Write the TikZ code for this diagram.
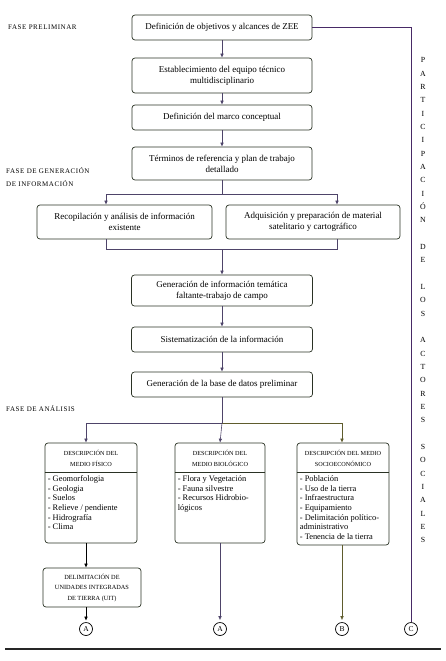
\documentclass[tikz,border=0pt]{standalone}
\usepackage{fontspec}
\setmainfont{Liberation Serif}
\newfontfamily\capsfont[LetterSpace=8]{Liberation Serif}
\usetikzlibrary{arrows.meta,calc}
\definecolor{boxc}{RGB}{42,50,36}
\definecolor{linec}{RGB}{78,68,105}
\definecolor{cline}{RGB}{72,42,102}
\definecolor{olivec}{RGB}{95,92,45}
\begin{document}
\begin{tikzpicture}[x=1pt,y=-1pt,
  box/.style={draw=boxc, line width=0.7pt, rounded corners=3pt, align=center, inner sep=2pt, font=\fontsize{9}{11}\selectfont},
  arr/.style={draw=linec, line width=0.6pt, -{Latex[length=4pt,width=3.6pt]}},
  ln/.style={draw=linec, line width=0.6pt},
  lab/.style={anchor=west, inner sep=0pt, font=\capsfont\fontsize{7}{13}\selectfont, align=left},
  hdr/.style={inner sep=0pt, align=center, font=\fontsize{6.2}{10.5}\selectfont},
  lst/.style={inner sep=0pt, align=left, anchor=north west, font=\fontsize{8.4}{9.6}\selectfont},
  circ/.style={draw=black, circle, line width=0.7pt, minimum size=13pt, inner sep=0pt, font=\fontsize{7.5}{8}\selectfont}
]
\useasboundingbox (0,0) rectangle (445,661);

% phase labels
\node[lab] (l1) at (8,27) {FASE PRELIMINAR};
\node[lab] (l2) at (6,177.5) {FASE DE GENERACIÓN\\DE INFORMACIÓN};
\node[lab] (l3) at (6,409) {FASE DE ANÁLISIS};

% main boxes
\node[box, minimum width=180, minimum height=25] (b1) at (222,27.5) {Definición de objetivos y alcances de ZEE};
\node[box, minimum width=180, minimum height=35] (b2) at (222,75.5) {Establecimiento del equipo técnico\\multidisciplinario};
\node[box, minimum width=180, minimum height=25] (b3) at (222,117.5) {Definición del marco conceptual};
\node[box, minimum width=180, minimum height=33] (b4) at (222,163.5) {Términos de referencia y plan de trabajo\\detallado};
\node[box, minimum width=175, minimum height=34] (b5) at (124.5,222) {Recopilación y análisis de información\\existente};
\node[box, minimum width=174, minimum height=34] (b6) at (313,222) {Adquisición y preparación de material\\satelitario y cartográfico};
\node[box, minimum width=181, minimum height=31] (b7) at (222,290.5) {Generación de información temática\\faltante-trabajo de campo};
\node[box, minimum width=181, minimum height=25] (b8) at (222,339.5) {Sistematización de la información};
\node[box, minimum width=181, minimum height=25] (b9) at (222,384.5) {Generación de la base de datos preliminar};

% description boxes
\node[box, minimum width=92, minimum height=100] (d1) at (91,493) {};
\node[box, minimum width=90, minimum height=100] (d2) at (220,493) {};
\node[box, minimum width=92, minimum height=102] (d3) at (343,494) {};

\node[hdr] (d1h) at ($(d1.north)+(0,15.5)$) {DESCRIPCIÓN DEL\\MEDIO FÍSICO};
\node[hdr] (d2h) at ($(d2.north)+(0,15.5)$) {DESCRIPCIÓN DEL\\MEDIO BIOLÓGICO};
\node[hdr] (d3h) at ($(d3.north)+(0,15.5)$) {DESCRIPCIÓN DEL MEDIO\\SOCIOECONÓMICO};

\draw[boxc, line width=0.6pt] ($(d1.north west)+(0,30)$) -- ($(d1.north east)+(0,30)$);
\draw[boxc, line width=0.6pt] ($(d2.north west)+(0,30)$) -- ($(d2.north east)+(0,30)$);
\draw[boxc, line width=0.6pt] ($(d3.north west)+(0,30)$) -- ($(d3.north east)+(0,30)$);

\node[lst] (d1l) at ($(d1.north west)+(3,33)$) {- Geomorfologia\\- Geologia\\- Suelos\\- Relieve / pendiente\\- Hidrografía\\- Clima};
\node[lst] (d2l) at ($(d2.north west)+(3,33)$) {- Flora y Vegetación\\- Fauna silvestre\\- Recursos Hidrobio-\\lógicos};
\node[lst] (d3l) at ($(d3.north west)+(3,33)$) {- Población\\- Uso de la tierra\\- Infraestructura\\- Equipamiento\\- Delimitación político-\\administrativo\\- Tenencia de la tierra};

\node[box, minimum width=98, minimum height=39, font=\fontsize{6.3}{10.5}\selectfont] (b13) at (92,587.5) {DELIMITACIÓN DE\\UNIDADES INTEGRADAS\\DE TIERRA (UIT)};

% circles
\node[circ] (cA1) at (86,629) {A};
\node[circ] (cA2) at (220,629) {A};
\node[circ] (cB) at (342,629) {B};
\node[circ] (cC) at (411,629) {C};

% vertical text
\node[inner sep=0pt, align=center, anchor=north, font=\fontsize{7.8}{13.33}\selectfont] (vt) at (423,57.5)
 {P\\A\\R\\T\\I\\C\\I\\P\\A\\C\\I\\Ó\\N\\[13.33pt]D\\E\\[13.33pt]L\\O\\S\\[13.33pt]A\\C\\T\\O\\R\\E\\S\\[13.33pt]S\\O\\C\\I\\A\\L\\E\\S};

% connectors top
\draw[arr] (b1.south) -- (b2.north);
\draw[arr] (b2.south) -- (b3.north);
\draw[arr] (b3.south) -- (b4.north);

\coordinate (j1) at (222,194);
\coordinate (jl) at (106,194);
\coordinate (jr) at (337,194);
\draw[ln] (b4.south) -- (j1);
\draw[arr] (j1) -- (jl) -- (jl |- b5.north);
\draw[arr] (j1) -- (jr) -- (jr |- b6.north);

\coordinate (ml) at (106,249);
\coordinate (mr) at (337,249);
\coordinate (m1) at (222,249);
\draw[ln] (jl |- b5.south) -- (ml) -- (mr) -- (jr |- b6.south);
\draw[arr] (m1) -- (b7.north);
\draw[arr] (b7.south) -- (b8.north);
\draw[arr] (b8.south) -- (b9.north);

\coordinate (k1) at (220,423);
\coordinate (kl) at (86,423);
\coordinate (kr) at (342,423);
\draw[ln] (b9.south) -- (b9.south |- k1);
\draw[arr] (b9.south |- k1) -- (kl) -- (kl |- d1.north);
\draw[arr, draw=olivec] (b9.south |- k1) -- (kr) -- (kr |- d3.north);
\draw[arr] (b9.south |- k1) -- (k1 |- d2.north);

\draw[arr, draw=black] (kl |- d1.south) -- (kl |- b13.north);
\draw[arr, draw=black, shorten >=1.5pt] (kl |- b13.south) -- (cA1.north);
\draw[arr, shorten >=2pt] (k1 |- d2.south) -- (cA2.north);
\draw[arr, draw=olivec, shorten >=2pt] (kr |- d3.south) -- (cB.north);

\draw[cline, line width=0.7pt] (b1.east) -- (b1.east -| cC) -- (cC.north);

% bottom rule
\draw[black!85, line width=1.6pt] (5,649) -- (441,649);
\end{tikzpicture}
\end{document}
